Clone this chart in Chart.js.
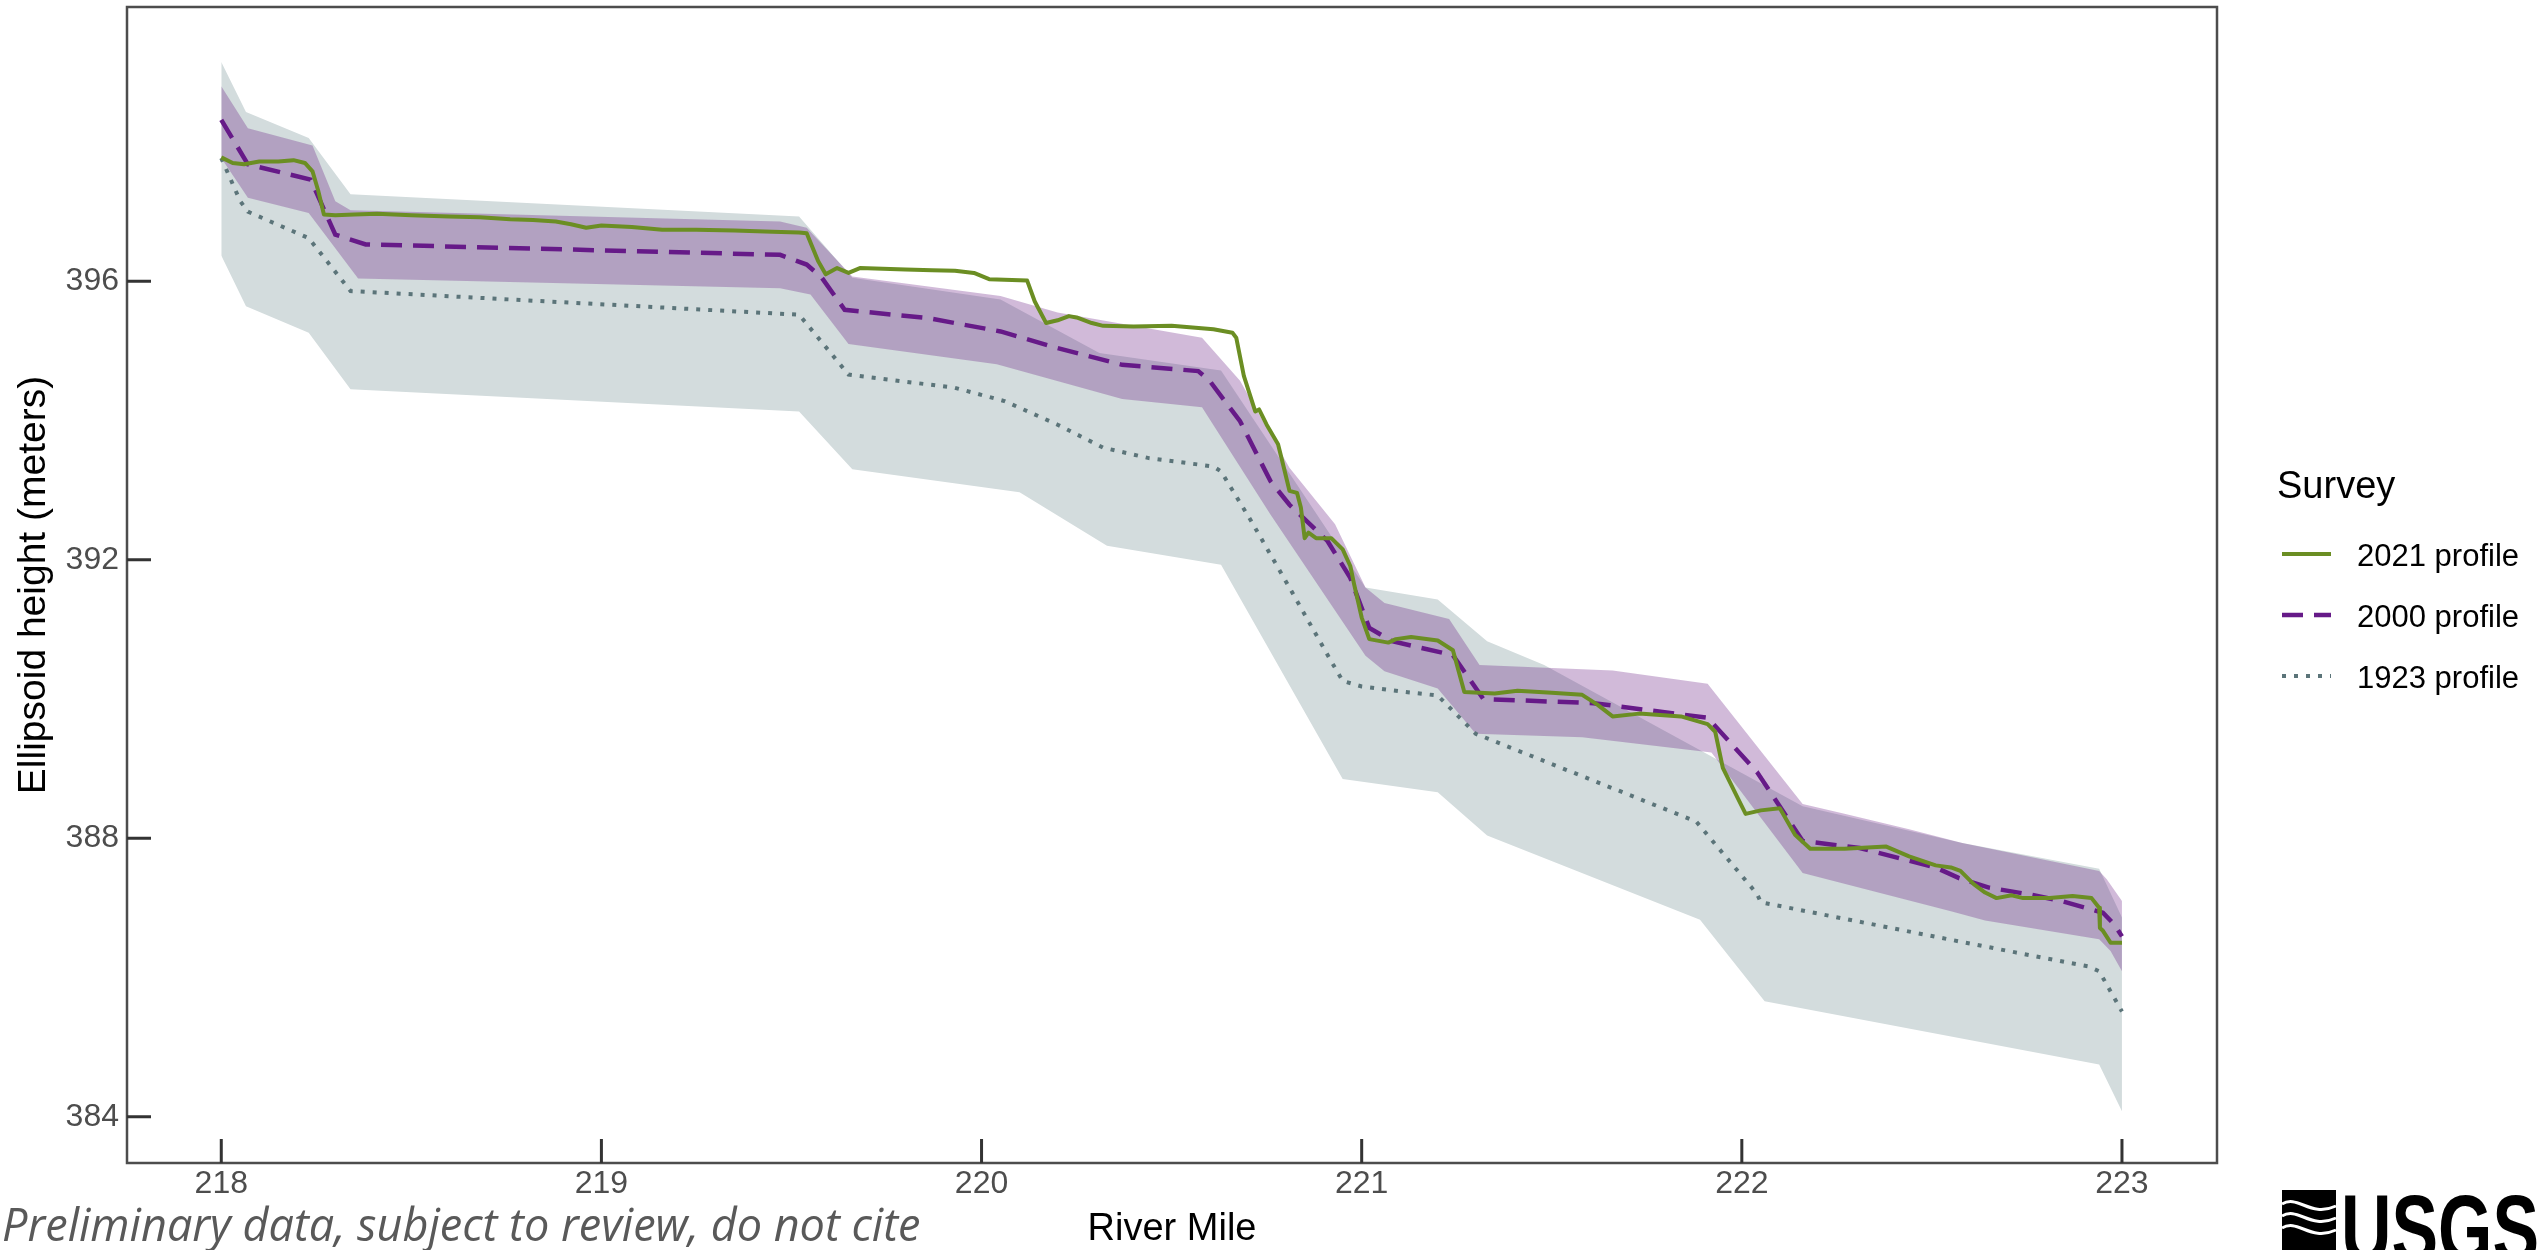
<!DOCTYPE html>
<html>
<head>
<meta charset="utf-8">
<script src="https://cdn.jsdelivr.net/npm/chart.js@4.4.1/dist/chart.umd.min.js"></script>
<style>
  html, body { margin: 0; padding: 0; background: #fff; overflow: hidden; }
</style>
</head>
<body>
<canvas id="profileChart" width="2539" height="1250"></canvas>
<script>
// tick labels
const mileTicks = [218, 219, 220, 221, 222, 223];
const heightTicks = [384, 388, 392, 396];

// range band around the 1923 survey (grey)
const grayUpperMiles = [218.0, 218.065, 218.23, 218.34, 219.52, 219.66, 220.05, 220.31, 220.63, 221.01, 221.2, 221.33, 221.48, 222.16, 222.58, 222.94, 223.0];
const grayUpper = [399.15, 398.43, 398.06, 397.25, 396.93, 396.05, 395.74, 394.97, 394.72, 391.6, 391.43, 390.83, 390.49, 388.46, 387.93, 387.56, 386.86];
const grayLowerMiles = [218.0, 218.065, 218.23, 218.34, 219.52, 219.66, 220.1, 220.33, 220.63, 220.95, 221.2, 221.33, 221.89, 222.06, 222.94, 223.0];
const grayLower = [396.37, 395.64, 395.26, 394.45, 394.13, 393.3, 392.97, 392.2, 391.93, 388.85, 388.66, 388.04, 386.83, 385.66, 384.75, 384.08];

// range band around the 2000 survey (purple)
const purpleUpperMiles = [218.0, 218.07, 218.24, 218.3, 218.34, 219.47, 219.54, 219.66, 220.05, 220.2, 220.58, 220.68, 220.81, 220.93, 221.01, 221.06, 221.23, 221.31, 221.66, 221.91, 222.16, 222.27, 222.44, 222.58, 222.94, 222.96, 223.0];
const purpleUpper = [398.8, 398.2, 397.95, 397.15, 397.02, 396.86, 396.77, 396.07, 395.79, 395.55, 395.19, 394.57, 393.32, 392.51, 391.6, 391.38, 391.15, 390.49, 390.41, 390.22, 388.49, 388.35, 388.13, 387.93, 387.53, 387.41, 387.1];
const purpleLowerMiles = [218.0, 218.07, 218.23, 218.36, 219.47, 219.55, 219.65, 220.04, 220.37, 220.58, 220.76, 221.01, 221.06, 221.2, 221.3, 221.58, 221.92, 222.16, 222.55, 222.64, 222.94, 222.97, 223.0];
const purpleLower = [397.77, 397.2, 396.98, 396.04, 395.9, 395.81, 395.1, 394.81, 394.31, 394.19, 392.65, 390.62, 390.4, 390.15, 389.5, 389.45, 389.23, 387.5, 386.95, 386.82, 386.55, 386.38, 386.09];

// 1923 profile (dotted)
const miles1923 = [218.0, 218.05, 218.07, 218.23, 218.34, 219.52, 219.65, 219.93, 220.06, 220.2, 220.32, 220.44, 220.61, 220.63, 220.71, 220.81, 220.92, 220.95, 221.0, 221.1, 221.2, 221.3, 221.88, 222.04, 222.05, 222.57, 222.72, 222.91, 222.94, 222.97, 223.0];
const elev1923 = [397.77, 397.15, 397.0, 396.62, 395.86, 395.52, 394.66, 394.47, 394.28, 393.94, 393.61, 393.46, 393.34, 393.27, 392.55, 391.6, 390.54, 390.26, 390.18, 390.11, 390.05, 389.5, 388.24, 387.2, 387.08, 386.52, 386.36, 386.16, 386.09, 385.8, 385.51];

// 2000 profile (dashed)
const miles2000 = [218.0, 218.07, 218.235, 218.3, 218.38, 219.47, 219.54, 219.58, 219.64, 219.86, 220.05, 220.2, 220.37, 220.57, 220.6, 220.68, 220.76, 220.81, 220.91, 220.97, 221.02, 221.08, 221.24, 221.32, 221.61, 221.91, 222.04, 222.16, 222.31, 222.51, 222.57, 222.65, 222.76, 222.84, 222.95, 222.98, 223.0];
const elev2000 = [398.32, 397.68, 397.46, 396.67, 396.53, 396.38, 396.24, 396.05, 395.59, 395.47, 395.28, 395.04, 394.8, 394.71, 394.57, 393.99, 393.13, 392.79, 392.27, 391.74, 391.02, 390.83, 390.63, 390.0, 389.94, 389.73, 388.95, 387.96, 387.86, 387.58, 387.43, 387.29, 387.19, 387.1, 386.93, 386.76, 386.59];

// 2021 profile (solid)
const miles2021 = [218.0, 218.03, 218.06, 218.1, 218.15, 218.19, 218.22, 218.24, 218.255, 218.27, 218.3, 218.35, 218.41, 218.5, 218.6, 218.68, 218.76, 218.82, 218.88, 218.92, 218.96, 219.0, 219.08, 219.16, 219.25, 219.35, 219.45, 219.52, 219.54, 219.57, 219.59, 219.62, 219.65, 219.68, 219.74, 219.8, 219.87, 219.93, 219.98, 220.02, 220.08, 220.12, 220.14, 220.17, 220.2, 220.23, 220.25, 220.29, 220.32, 220.4, 220.5, 220.61, 220.66, 220.67, 220.69, 220.72, 220.73, 220.75, 220.78, 220.79, 220.81, 220.83, 220.84, 220.85, 220.86, 220.88, 220.92, 220.95, 220.97, 220.98, 221.0, 221.02, 221.07, 221.09, 221.13, 221.2, 221.24, 221.27, 221.35, 221.41, 221.5, 221.58, 221.62, 221.66, 221.73, 221.84, 221.91, 221.93, 221.95, 221.99, 222.01, 222.05, 222.1, 222.14, 222.18, 222.27, 222.38, 222.44, 222.51, 222.55, 222.575, 222.61, 222.64, 222.67, 222.71, 222.74, 222.81, 222.87, 222.92, 222.94, 222.942, 222.95, 222.97, 223.0];
const elev2021 = [397.78, 397.7, 397.68, 397.72, 397.72, 397.74, 397.7, 397.58, 397.3, 396.96, 396.95, 396.96, 396.97, 396.95, 396.93, 396.92, 396.89, 396.88, 396.86, 396.82, 396.77, 396.8, 396.78, 396.74, 396.74, 396.73, 396.71, 396.7, 396.69, 396.29, 396.1, 396.19, 396.12, 396.19, 396.18, 396.17, 396.16, 396.15, 396.12, 396.03, 396.02, 396.01, 395.71, 395.4, 395.44, 395.5, 395.48, 395.4, 395.36, 395.35, 395.36, 395.31, 395.26, 395.19, 394.64, 394.13, 394.16, 393.94, 393.66, 393.44, 392.99, 392.96, 392.75, 392.31, 392.39, 392.31, 392.31, 392.15, 391.91, 391.65, 391.17, 390.86, 390.81, 390.86, 390.89, 390.84, 390.7, 390.1, 390.08, 390.12, 390.09, 390.06, 389.92, 389.75, 389.79, 389.75, 389.64, 389.53, 389.01, 388.57, 388.35, 388.4, 388.43, 388.05, 387.85, 387.85, 387.88, 387.74, 387.61, 387.58, 387.53, 387.34, 387.22, 387.14, 387.18, 387.14, 387.14, 387.17, 387.14, 387.0, 386.71, 386.67, 386.5, 386.5];

const FONT = '"Liberation Sans", Arial, sans-serif';
const toPoints = (xs, ys) => xs.map((x, i) => ({ x, y: ys[i] }));

const edge = (data, fill, color, order) => ({
  data,
  fill,
  backgroundColor: color,
  borderColor: "transparent",
  borderWidth: 0,
  pointRadius: 0,
  order,
});

// frame around the panel + inward tick marks
const frame = {
  id: "frame",
  afterDatasetsDraw(chart) {
    const { ctx, chartArea, scales } = chart;
    const { left, top, right, bottom } = chartArea;
    ctx.save();
    ctx.strokeStyle = "#4d4d4d";
    ctx.lineWidth = 2.5;
    ctx.strokeRect(left, top, right - left, bottom - top);
    ctx.strokeStyle = "#333";
    ctx.lineWidth = 3;
    ctx.beginPath();
    scales.x.ticks.forEach((t) => {
      const px = scales.x.getPixelForValue(t.value);
      ctx.moveTo(px, bottom);
      ctx.lineTo(px, bottom - 24);
    });
    scales.y.ticks.forEach((t) => {
      const py = scales.y.getPixelForValue(t.value);
      ctx.moveTo(left, py);
      ctx.lineTo(left + 24, py);
    });
    ctx.stroke();
    ctx.restore();
  },
};

// legend, footnote and logo
const extras = {
  id: "extras",
  afterDraw(chart) {
    const ctx = chart.ctx;
    ctx.save();
    ctx.textBaseline = "middle";
    ctx.fillStyle = "#000";
    ctx.font = `38px ${FONT}`;
    ctx.fillText("Survey", 2277, 488);

    const rows = [6, 5, 4];
    ctx.font = `31px ${FONT}`;
    rows.forEach((idx, i) => {
      const ds = chart.data.datasets[idx];
      const yy = 554 + i * 61;
      ctx.strokeStyle = ds.borderColor;
      ctx.lineWidth = ds.borderWidth;
      ctx.setLineDash(ds.borderDash || []);
      ctx.beginPath();
      ctx.moveTo(2282, yy);
      ctx.lineTo(2331, yy);
      ctx.stroke();
      ctx.setLineDash([]);
      ctx.fillStyle = "#000";
      ctx.fillText(ds.label, 2357, yy + 3);
    });

    // footnote
    ctx.textBaseline = "alphabetic";
    ctx.fillStyle = "#595959";
    ctx.font = `italic 45px "Open Sans", "DejaVu Sans", sans-serif`;
    ctx.fillText("Preliminary data, subject to review, do not cite", 2, 1241);

    // USGS mark
    ctx.fillStyle = "#000";
    ctx.fillRect(2282, 1190, 54, 60);
    ctx.strokeStyle = "#fff";
    ctx.lineWidth = 3;
    for (let k = 0; k < 3; k++) {
      const oy = 1204 + k * 12;
      ctx.beginPath();
      ctx.moveTo(2282, oy);
      ctx.bezierCurveTo(2298, oy - 10, 2310, oy + 14, 2336, oy + 2);
      ctx.stroke();
    }
    ctx.font = `bold 96px ${FONT}`;
    const w = ctx.measureText("USGS").width;
    ctx.translate(2341, 1262);
    ctx.scale(198 / w, 1);
    ctx.fillText("USGS", 0, 0);
    ctx.restore();
  },
};

const config = {
  type: "line",
  data: {
    datasets: [
      edge(toPoints(grayUpperMiles, grayUpper), "+1", "#d3dcdd", 6),
      edge(toPoints(grayLowerMiles, grayLower), false, "#d3dcdd", 6),
      edge(toPoints(purpleUpperMiles, purpleUpper), "+1", "rgba(102, 25, 128, 0.3)", 5),
      edge(toPoints(purpleLowerMiles, purpleLower), false, "rgba(102, 25, 128, 0.3)", 5),
      {
        label: "1923 profile",
        data: toPoints(miles1923, elev1923),
        borderColor: "#5b7479",
        borderWidth: 4,
        borderDash: [4, 8],
        borderCapStyle: "butt",
        pointRadius: 0,
        fill: false,
        order: 3,
      },
      {
        label: "2000 profile",
        data: toPoints(miles2000, elev2000),
        borderColor: "#661a88",
        borderWidth: 4.5,
        borderDash: [21, 11],
        borderCapStyle: "butt",
        pointRadius: 0,
        fill: false,
        order: 2,
      },
      {
        label: "2021 profile",
        data: toPoints(miles2021, elev2021),
        borderColor: "#6b8e23",
        borderWidth: 4,
        borderJoinStyle: "round",
        pointRadius: 0,
        fill: false,
        order: 1,
      },
    ],
  },
  options: {
    responsive: false,
    animation: false,
    devicePixelRatio: 1,
    layout: { padding: { top: 7, right: 322, left: 0, bottom: 0 } },
    plugins: { legend: { display: false }, tooltip: { enabled: false } },
    elements: { line: { tension: 0 } },
    scales: {
      x: {
        type: "linear",
        min: 217.752,
        max: 223.25,
        afterBuildTicks: (axis) => {
          axis.ticks = mileTicks.map((v) => ({ value: v }));
        },
        afterFit: (axis) => {
          axis.height = 87;
          axis.paddingLeft = 0;
          axis.paddingRight = 0;
        },
        grid: { display: false, drawTicks: false },
        border: { display: false },
        ticks: { color: "#4d4d4d", padding: 2, font: { family: FONT, size: 32 } },
        title: {
          display: true,
          text: "River Mile",
          color: "#000",
          font: { family: FONT, size: 38, lineHeight: 1 },
          padding: { top: 0, bottom: 1 },
        },
      },
      y: {
        type: "linear",
        min: 383.335,
        max: 399.94,
        afterBuildTicks: (axis) => {
          axis.ticks = heightTicks.map((v) => ({ value: v }));
        },
        afterFit: (axis) => {
          axis.width = 127;
          axis.paddingTop = 0;
          axis.paddingBottom = 0;
        },
        grid: { display: false, drawTicks: false },
        border: { display: false },
        ticks: { color: "#4d4d4d", padding: 8, font: { family: FONT, size: 32 } },
        title: {
          display: true,
          text: "Ellipsoid height (meters)",
          color: "#000",
          font: { family: FONT, size: 39, lineHeight: 1 },
          padding: { top: 15, bottom: 0 },
        },
      },
    },
  },
  plugins: [frame, extras],
};

const profileChart = new Chart(document.querySelector("#profileChart"), config);
</script>
</body>
</html>
